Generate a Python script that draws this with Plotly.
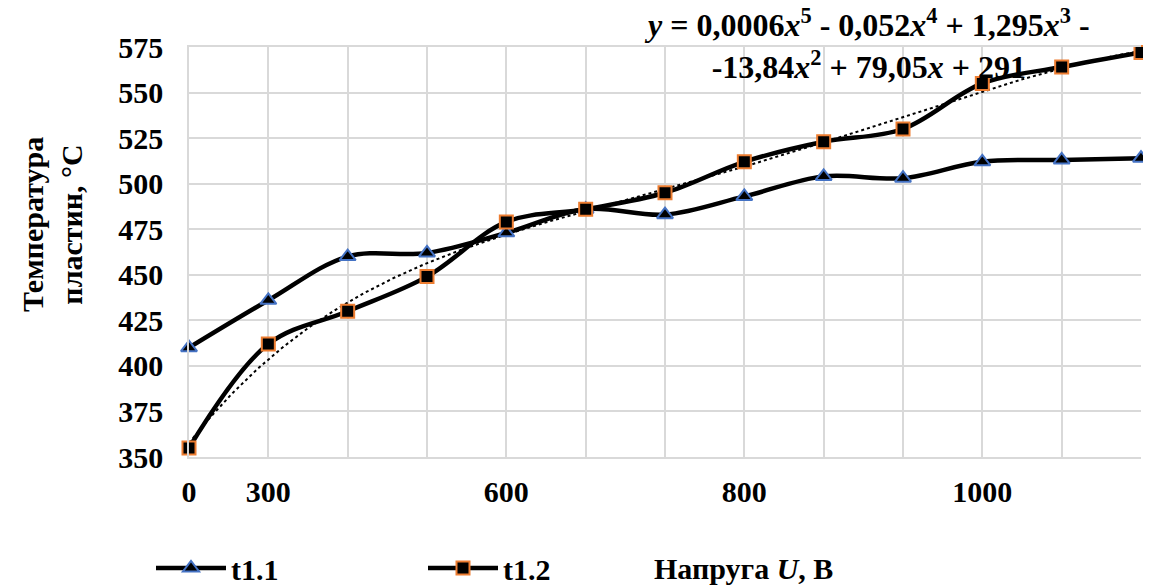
import numpy as np
import plotly.graph_objects as go

# Categories (index of voltage step) and labelled ticks
categories = list(range(13))
label_positions = [0, 1, 4, 7, 10]
tick_labels = ["0", "300", "600", "800", "1000"]

# Series values (temperature, °C)
t1_1 = [410, 436, 460, 462, 473, 486, 483, 493, 504, 503, 512, 513, 514]
t1_2 = [355, 412, 430, 449, 479, 486, 495, 512, 523, 530, 555, 564, 572]

# Polynomial (degree 5) trendline fitted to t1.2, as Excel does (x = 1..n)
xi = np.arange(1, len(t1_2) + 1)
coef = np.polyfit(xi, t1_2, 5)
xf = np.linspace(1, len(t1_2), 300)
yf = np.polyval(coef, xf)

FONT = "Liberation Serif"
FS = 30

fig = go.Figure()

fig.add_trace(go.Scatter(
    x=xf - 1, y=yf, mode="lines", showlegend=False, hoverinfo="skip",
    line=dict(color="black", width=2, dash="dot"), cliponaxis=False,
))

fig.add_trace(go.Scatter(
    x=categories, y=t1_1, name="t1.1", mode="lines+markers", cliponaxis=False,
    line=dict(color="black", width=4.5, shape="spline", smoothing=1),
    marker=dict(symbol="triangle-up", size=14, color="black",
                line=dict(color="#4472C4", width=2)),
))

fig.add_trace(go.Scatter(
    x=categories, y=t1_2, name="t1.2", mode="lines+markers", cliponaxis=False,
    line=dict(color="black", width=4.5, shape="spline", smoothing=1),
    marker=dict(symbol="square", size=13, color="black",
                line=dict(color="#ED7D31", width=2)),
))

# page body has an 8px margin: work in screen pixels, subtract offset
OFF = 8
W, H = 1151, 585
SL, SR, ST, SB = 189, 1141, 47, 457          # plot area in screen pixels
L, T = SL - OFF, ST - OFF
R = W - (SR - OFF)
B = H - (SB - OFF)
pw = W - L - R
ph = H - T - B

def px_x(p):
    return (p - OFF - L) / pw

def px_y(p):
    return (H - B - (p - OFF)) / ph

bold = dict(family=FONT, size=FS, color="black", weight="bold")

fig.update_layout(
    width=W, height=H,
    margin=dict(l=L, r=R, t=T, b=B, pad=0, autoexpand=False),
    paper_bgcolor="white", plot_bgcolor="white",
    font=bold,
    showlegend=True,
    legend=dict(
        orientation="h", x=px_x(151), y=px_y(568), xanchor="left", yanchor="middle",
        font=bold, itemwidth=70, entrywidth=187, entrywidthmode="pixels",
        bgcolor="rgba(0,0,0,0)", tracegroupgap=0,
    ),
    xaxis=dict(
        range=[0, 12], tickmode="array", tickvals=label_positions, ticktext=tick_labels,
        showgrid=True, gridcolor="#D9D9D9", gridwidth=1.5,
        minor=dict(tick0=0, dtick=1, showgrid=True, gridcolor="#D9D9D9", gridwidth=1.5, ticks=""),
        zeroline=False, ticks="", ticklabelstandoff=7, automargin=False,
        tickfont=bold,
        showline=True, linecolor="#D9D9D9", linewidth=1.5, mirror=True,
    ),
    yaxis=dict(
        range=[350, 575], tickmode="array", tickvals=list(range(350, 576, 25)),
        showgrid=True, gridcolor="#D9D9D9", gridwidth=1.5,
        zeroline=False, ticks="", ticklabelstandoff=18, automargin=False,
        tickfont=bold,
        showline=True, linecolor="#D9D9D9", linewidth=1.5, mirror=False,
    ),
    annotations=[
        dict(
            text="Температура<br>пластин, °С", textangle=-90,
            xref="paper", yref="paper", x=px_x(52), y=px_y(225),
            xanchor="center", yanchor="middle", showarrow=False, font=bold,
        ),
        dict(
            text="Напруга <i>U</i>, В",
            xref="paper", yref="paper", x=px_x(652), y=px_y(568),
            xanchor="left", yanchor="middle", showarrow=False, font=bold,
        ),
        dict(
            text=("<i>y</i> = 0,0006<i>x</i><sup>5</sup> - 0,052<i>x</i><sup>4</sup> + 1,295<i>x</i><sup>3</sup> -"
                  "<br>-13,84<i>x</i><sup>2</sup> + 79,05<i>x</i> + 291"),
            xref="paper", yref="paper", x=px_x(867), y=px_y(44),
            xanchor="center", yanchor="middle", showarrow=False, align="center",
            font=dict(family=FONT, size=32, color="black", weight="bold"),
        ),
    ],
)

fig.write_html("out.html")
